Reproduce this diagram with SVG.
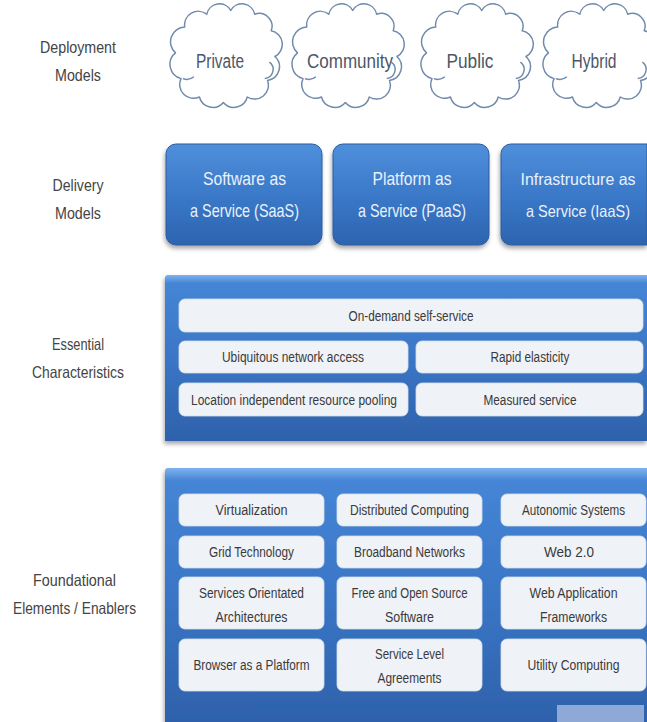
<svg xmlns="http://www.w3.org/2000/svg" width="647" height="722" viewBox="0 0 647 722">
<defs>
<style>
.lbl{font-family:"Liberation Sans",Arial,sans-serif;font-size:16.5px;fill:#444;text-anchor:middle}
.cld{fill:#fff;stroke:#6f8aab;stroke-width:1.6;stroke-linejoin:round}
.curl{fill:none;stroke:#6f8aab;stroke-width:1.6}
.ct{font-family:"Liberation Sans",Arial,sans-serif;font-size:20px;fill:#4a5766;text-anchor:middle}
.dbox{fill:url(#gDel);stroke:#2b5c9f;stroke-width:1}
.dt{font-family:"Liberation Sans",Arial,sans-serif;font-size:18.5px;fill:#e9f1fb;text-anchor:middle}
.dts{font-size:16.5px}
.panel{fill:url(#gPanel)}
.wb{fill:#eff2f7;stroke:#d6dfea;stroke-width:0.8}
.wt{font-family:"Liberation Sans",Arial,sans-serif;font-size:14px;fill:#3a3a3a;text-anchor:middle}
</style>
<linearGradient id="gDel" x1="0" y1="0" x2="0" y2="1">
<stop offset="0" stop-color="#4f8fdb"/>
<stop offset="0.5" stop-color="#3b79c9"/>
<stop offset="1" stop-color="#2d64b0"/>
</linearGradient>
<linearGradient id="gPanel" x1="0" y1="0" x2="0" y2="1">
<stop offset="0" stop-color="#7db2ee"/>
<stop offset="0.05" stop-color="#4585d6"/>
<stop offset="0.5" stop-color="#3a76c6"/>
<stop offset="1" stop-color="#2e61ab"/>
</linearGradient>
<filter id="sh" x="-10%" y="-10%" width="125%" height="130%">
<feGaussianBlur in="SourceAlpha" stdDeviation="2"/>
<feOffset dx="-1" dy="3" result="b"/>
<feFlood flood-color="#000" flood-opacity="0.35"/>
<feComposite in2="b" operator="in"/>
<feMerge><feMergeNode/><feMergeNode in="SourceGraphic"/></feMerge>
</filter>
<path id="cloud" d="M6,52 A16,16 0 0 1 16,24 A15,15 0 0 1 40,10 A14,14 0 0 1 66,6 A14,14 0 0 1 92,10 A14,14 0 0 1 110,28 A15,15 0 0 1 114,56 A15,15 0 0 1 106,82 A15,15 0 0 1 84,100 A15,15 0 0 1 58,106 A15,15 0 0 1 32,100 A15,15 0 0 1 12,80 A16,16 0 0 1 6,52 Z"/>
</defs>
<rect width="647" height="722" fill="#fff"/>

<g id="labels">
<text class="lbl" x="78" y="53" textLength="76" lengthAdjust="spacingAndGlyphs">Deployment</text>
<text class="lbl" x="78" y="81" textLength="46" lengthAdjust="spacingAndGlyphs">Models</text>
<text class="lbl" x="78" y="191" textLength="51" lengthAdjust="spacingAndGlyphs">Delivery</text>
<text class="lbl" x="78" y="219" textLength="46" lengthAdjust="spacingAndGlyphs">Models</text>
<text class="lbl" x="78" y="350" textLength="52" lengthAdjust="spacingAndGlyphs">Essential</text>
<text class="lbl" x="78" y="378" textLength="92" lengthAdjust="spacingAndGlyphs">Characteristics</text>
<text class="lbl" x="74.5" y="586" textLength="83" lengthAdjust="spacingAndGlyphs">Foundational</text>
<text class="lbl" x="74.5" y="614" textLength="123" lengthAdjust="spacingAndGlyphs">Elements / Enablers</text>
</g>

<g id="deployment">
<g id="cloud-private" transform="translate(170,5) scale(0.92)">
<use href="#cloud" class="cld"/>
<path class="curl" d="M108,62 A10,10 0 0 1 103,80 M14,80 A12,12 0 0 0 26,78"/>
</g>
<text class="ct" x="220" y="68" textLength="48" lengthAdjust="spacingAndGlyphs">Private</text>
<g id="cloud-community" transform="translate(292,5) scale(0.92)">
<use href="#cloud" class="cld"/>
<path class="curl" d="M108,62 A10,10 0 0 1 103,80 M14,80 A12,12 0 0 0 26,78"/>
</g>
<text class="ct" x="350" y="68" textLength="86" lengthAdjust="spacingAndGlyphs">Community</text>
<g id="cloud-public" transform="translate(421,5) scale(0.92)">
<use href="#cloud" class="cld"/>
<path class="curl" d="M108,62 A10,10 0 0 1 103,80 M14,80 A12,12 0 0 0 26,78"/>
</g>
<text class="ct" x="470" y="68" textLength="47" lengthAdjust="spacingAndGlyphs">Public</text>
<g id="cloud-hybrid" transform="translate(543,5) scale(0.92)">
<use href="#cloud" class="cld"/>
<path class="curl" d="M108,62 A10,10 0 0 1 103,80 M14,80 A12,12 0 0 0 26,78"/>
</g>
<text class="ct" x="594" y="68" textLength="45" lengthAdjust="spacingAndGlyphs">Hybrid</text>
</g>

<g id="delivery">
<g id="saas">
<rect class="dbox" x="166" y="144" width="156" height="101" rx="10" filter="url(#sh)"/>
<text class="dt" x="244.5" y="185" textLength="83" lengthAdjust="spacingAndGlyphs">Software as</text>
<text class="dt" x="244.5" y="217" textLength="109" lengthAdjust="spacingAndGlyphs">a Service (SaaS)</text>
</g>
<g id="paas">
<rect class="dbox" x="333" y="144" width="156" height="101" rx="10" filter="url(#sh)"/>
<text class="dt" x="412" y="185" textLength="79" lengthAdjust="spacingAndGlyphs">Platform as</text>
<text class="dt" x="412" y="217" textLength="108" lengthAdjust="spacingAndGlyphs">a Service (PaaS)</text>
</g>
<g id="iaas">
<path class="dbox" d="M511,144 H647 V245 H511 A10,10 0 0 1 501,235 V154 A10,10 0 0 1 511,144 Z" filter="url(#sh)"/>
<text class="dt dts" x="578" y="185" textLength="115" lengthAdjust="spacingAndGlyphs">Infrastructure as</text>
<text class="dt dts" x="578" y="217" textLength="104" lengthAdjust="spacingAndGlyphs">a Service (IaaS)</text>
</g>
</g>

<g id="essential">
<path class="panel" d="M168,275 H647 V441 H165 V278 A3,3 0 0 1 168,275 Z" filter="url(#sh)"/>
<g id="on-demand">
<rect class="wb" x="179" y="299" width="464" height="33" rx="6"/>
<text class="wt" x="411" y="320.5" textLength="125" lengthAdjust="spacingAndGlyphs">On-demand self-service</text>
</g>
<g id="ubiquitous">
<rect class="wb" x="179" y="341" width="229" height="32" rx="6"/>
<text class="wt" x="293" y="362" textLength="142" lengthAdjust="spacingAndGlyphs">Ubiquitous network access</text>
</g>
<g id="rapid">
<rect class="wb" x="416" y="341" width="227" height="32" rx="6"/>
<text class="wt" x="530" y="362" textLength="79" lengthAdjust="spacingAndGlyphs">Rapid elasticity</text>
</g>
<g id="location">
<rect class="wb" x="179" y="383" width="229" height="33" rx="6"/>
<text class="wt" x="294" y="404.5" textLength="206" lengthAdjust="spacingAndGlyphs">Location independent resource pooling</text>
</g>
<g id="measured">
<rect class="wb" x="416" y="383" width="227" height="33" rx="6"/>
<text class="wt" x="530" y="404.5" textLength="93" lengthAdjust="spacingAndGlyphs">Measured service</text>
</g>
</g>

<g id="foundational">
<path class="panel" d="M168,468 H647 V722 H165 V471 A3,3 0 0 1 168,468 Z" filter="url(#sh)"/>
<g id="virtualization"><rect class="wb" x="179" y="494" width="145" height="32" rx="6"/>
<text class="wt" x="251.5" y="515" textLength="72" lengthAdjust="spacingAndGlyphs">Virtualization</text></g>
<g id="distributed"><rect class="wb" x="337" y="494" width="145" height="32" rx="6"/>
<text class="wt" x="409.5" y="515" textLength="119" lengthAdjust="spacingAndGlyphs">Distributed Computing</text></g>
<g id="autonomic"><rect class="wb" x="501" y="494" width="145" height="32" rx="6"/>
<text class="wt" x="573.5" y="515" textLength="103" lengthAdjust="spacingAndGlyphs">Autonomic Systems</text></g>
<g id="grid"><rect class="wb" x="179" y="536" width="145" height="32" rx="6"/>
<text class="wt" x="251.5" y="557" textLength="85" lengthAdjust="spacingAndGlyphs">Grid Technology</text></g>
<g id="broadband"><rect class="wb" x="337" y="536" width="145" height="32" rx="6"/>
<text class="wt" x="409.5" y="557" textLength="111" lengthAdjust="spacingAndGlyphs">Broadband Networks</text></g>
<g id="web20"><rect class="wb" x="501" y="536" width="145" height="32" rx="6"/>
<text class="wt" x="569" y="557" textLength="50" lengthAdjust="spacingAndGlyphs">Web 2.0</text></g>
<g id="soa"><rect class="wb" x="179" y="577" width="145" height="52" rx="6"/>
<text class="wt" x="251.5" y="597.5" textLength="105" lengthAdjust="spacingAndGlyphs">Services Orientated</text>
<text class="wt" x="251.5" y="621.5" textLength="72" lengthAdjust="spacingAndGlyphs">Architectures</text></g>
<g id="foss"><rect class="wb" x="337" y="577" width="145" height="52" rx="6"/>
<text class="wt" x="409.5" y="597.5" textLength="116" lengthAdjust="spacingAndGlyphs">Free and Open Source</text>
<text class="wt" x="409.5" y="621.5" textLength="49" lengthAdjust="spacingAndGlyphs">Software</text></g>
<g id="webapp"><rect class="wb" x="501" y="577" width="145" height="52" rx="6"/>
<text class="wt" x="573.5" y="597.5" textLength="88" lengthAdjust="spacingAndGlyphs">Web Application</text>
<text class="wt" x="573.5" y="621.5" textLength="67" lengthAdjust="spacingAndGlyphs">Frameworks</text></g>
<g id="browser"><rect class="wb" x="179" y="639" width="145" height="52" rx="6"/>
<text class="wt" x="251.5" y="670" textLength="116" lengthAdjust="spacingAndGlyphs">Browser as a Platform</text></g>
<g id="sla"><rect class="wb" x="337" y="639" width="145" height="52" rx="6"/>
<text class="wt" x="409.5" y="658.5" textLength="69" lengthAdjust="spacingAndGlyphs">Service Level</text>
<text class="wt" x="409.5" y="682.5" textLength="64" lengthAdjust="spacingAndGlyphs">Agreements</text></g>
<g id="utility"><rect class="wb" x="501" y="639" width="145" height="52" rx="6"/>
<text class="wt" x="573.5" y="670" textLength="92" lengthAdjust="spacingAndGlyphs">Utility Computing</text></g>
<rect x="557" y="705" width="87" height="17" fill="#8ea9d6"/>
</g>
<g id="connectors"/>
</svg>
